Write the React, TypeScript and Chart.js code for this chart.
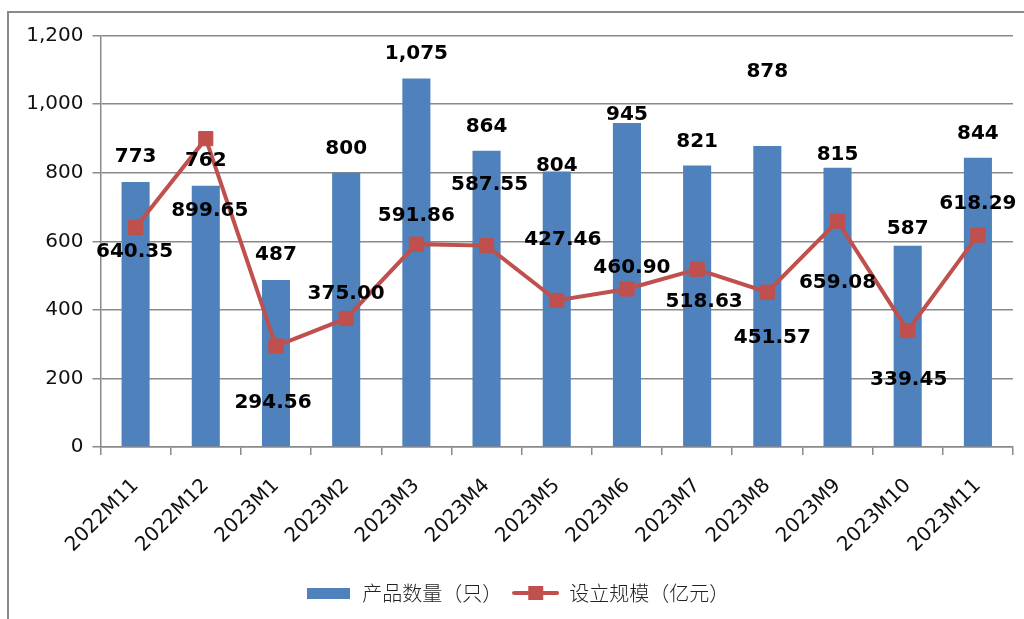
import React, { useEffect, useRef } from "react";
import { Chart, registerables } from "chart.js";

Chart.register(...registerables);

const categories = [
  "2022M11", "2022M12", "2023M1", "2023M2", "2023M3", "2023M4", "2023M5",
  "2023M6", "2023M7", "2023M8", "2023M9", "2023M10", "2023M11",
];
const productCount = [773, 762, 487, 800, 1075, 864, 804, 945, 821, 878, 815, 587, 844];
const setupScale = [640.35, 899.65, 294.56, 375.0, 591.86, 587.55, 427.46, 460.9, 518.63, 451.57, 659.08, 339.45, 618.29];
const seriesNames = ["产品数量（只）", "设立规模（亿元）"];
const yMin = 0;
const yMax = 1200;
const yStep = 200;

// label placement offsets (pixels, relative to the mark)
const barLabelDy = [-25, -25, -25, -24, -25, -24, -6, -8, -24, -74, -13, -17, -24];
const lineLabelDx = [-1, 4, -3, 0, 0, 3, 6, 5, 7, 5, 0, 1, 0];
const lineLabelDy = [24, 72, 57, -25, -28, -61, -61, -21, 33, 46, 62, 49, -31];

const BAR_COLOR = "#4F81BD";
const LINE_COLOR = "#C0504D";
const GRID_COLOR = "#8a8a8a";
const FONT = '"DejaVu Sans", sans-serif';

const fmtInt = (v: number) => v.toLocaleString("en-US");
const fmt2 = (v: number) => v.toFixed(2);

function makeBarIcon() {
  const c = document.createElement("canvas");
  c.width = 43;
  c.height = 11;
  const g = c.getContext("2d")!;
  g.fillStyle = BAR_COLOR;
  g.fillRect(0, 0, 43, 11);
  return c;
}

function makeLineIcon() {
  const c = document.createElement("canvas");
  c.width = 47;
  c.height = 16;
  const g = c.getContext("2d")!;
  g.strokeStyle = LINE_COLOR;
  g.lineWidth = 4;
  g.lineCap = "round";
  g.beginPath();
  g.moveTo(2, 8);
  g.lineTo(45, 8);
  g.stroke();
  g.fillStyle = LINE_COLOR;
  g.fillRect(16, 1, 15, 14);
  return c;
}

const framePlugin = {
  id: "frame",
  beforeDraw(chart: any) {
    const ctx = chart.ctx;
    ctx.save();
    ctx.strokeStyle = GRID_COLOR;
    ctx.lineWidth = 2;
    ctx.beginPath();
    ctx.moveTo(8, 619);
    ctx.lineTo(8, 12);
    ctx.lineTo(1024, 12);
    ctx.stroke();
    ctx.restore();
  },
};

const valueLabelPlugin = {
  id: "valueLabels",
  afterDatasetsDraw(chart: any) {
    const ctx = chart.ctx;
    ctx.save();
    ctx.font = `bold 20px ${FONT}`;
    ctx.fillStyle = "#000";
    ctx.textAlign = "center";
    ctx.textBaseline = "middle";
    const barMeta = chart.getDatasetMeta(0);
    barMeta.data.forEach((el: any, i: number) => {
      ctx.fillText(fmtInt(productCount[i]), el.x, el.y + barLabelDy[i]);
    });
    const lineMeta = chart.getDatasetMeta(1);
    lineMeta.data.forEach((el: any, i: number) => {
      ctx.fillText(fmt2(setupScale[i]), el.x + lineLabelDx[i], el.y + lineLabelDy[i]);
    });
    ctx.restore();
  },
};

export default function App() {
  const ref = useRef<HTMLCanvasElement | null>(null);

  useEffect(() => {
    if (!ref.current) return;
    const barIcon = makeBarIcon();
    const lineIcon = makeLineIcon();
    const chart = new Chart(ref.current, {
      type: "bar",
      data: {
        labels: categories,
        datasets: [
          {
            type: "bar",
            label: seriesNames[0],
            data: productCount,
            backgroundColor: BAR_COLOR,
            borderWidth: 0,
            barPercentage: 0.5,
            categoryPercentage: 0.8,
            order: 1,
          },
          {
            type: "line",
            label: seriesNames[1],
            data: setupScale,
            borderColor: LINE_COLOR,
            backgroundColor: LINE_COLOR,
            borderWidth: 4,
            tension: 0,
            pointStyle: "rect",
            pointRadius: 10,
            pointBorderWidth: 1,
            pointBackgroundColor: LINE_COLOR,
            pointBorderColor: LINE_COLOR,
            order: 0,
          },
        ],
      } as any,
      options: {
        animation: false,
        responsive: false,
        events: [],
        layout: { padding: { left: 21, right: 10.5, top: 35.7, bottom: 6 } },
        plugins: {
          tooltip: { enabled: false },
          legend: {
            position: "bottom",
            labels: {
              usePointStyle: true,
              pointStyleWidth: 47,
              boxHeight: 16,
              padding: 10,
              color: "#222",
              font: { family: '"Noto Sans CJK SC", sans-serif', size: 20, weight: "300" },
              generateLabels: () => [
                {
                  text: seriesNames[0],
                  pointStyle: barIcon,
                  fillStyle: BAR_COLOR,
                  strokeStyle: BAR_COLOR,
                  lineWidth: 0,
                  hidden: false,
                  datasetIndex: 0,
                  fontColor: "#222",
                },
                {
                  text: seriesNames[1],
                  pointStyle: lineIcon,
                  fillStyle: LINE_COLOR,
                  strokeStyle: LINE_COLOR,
                  lineWidth: 0,
                  hidden: false,
                  datasetIndex: 1,
                  fontColor: "#222",
                },
              ],
            },
          },
        },
        scales: {
          x: {
            grid: {
              display: true,
              drawOnChartArea: false,
              offset: true,
              tickLength: 8,
              color: GRID_COLOR,
              lineWidth: 1.5,
            },
            border: { color: GRID_COLOR, width: 1.5 },
            ticks: {
              autoSkip: false,
              minRotation: 45,
              maxRotation: 45,
              padding: 19,
              color: "#111",
              font: { family: FONT, size: 20 },
            },
            afterFit: (s: any) => {
              s.height = 126;
            },
          },
          y: {
            min: yMin,
            max: yMax,
            grid: { color: GRID_COLOR, lineWidth: 1.5, tickLength: 8 },
            border: { color: GRID_COLOR, width: 1.5 },
            ticks: {
              stepSize: yStep,
              padding: 9,
              color: "#111",
              font: { family: FONT, size: 20 },
              callback: (v: any) => fmtInt(Number(v)),
            },
            afterFit: (s: any) => {
              s.width = 79.5;
            },
          },
        },
      } as any,
      plugins: [framePlugin, valueLabelPlugin],
    });
    return () => chart.destroy();
  }, []);

  return (
    <div style={{ position: "fixed", left: 0, top: 0, width: 1024, height: 619, background: "#fff" }}>
      <canvas ref={ref} width={1024} height={619} style={{ display: "block" }} />
    </div>
  );
}
